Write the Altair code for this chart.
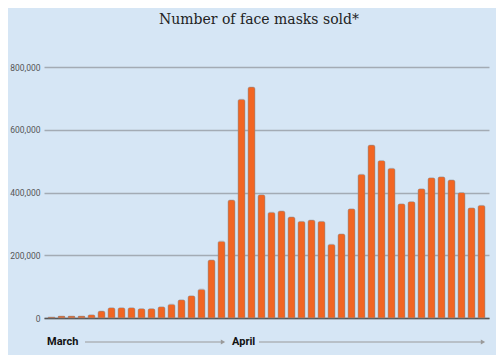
import altair as alt
import pandas as pd

days = list(range(1, 45))
masks = [3000, 6000, 6000, 6000, 10500, 22000, 33000, 33000, 33000, 30000,
         30000, 36000, 44000, 58000, 71000, 92000, 185000, 245000, 376000, 697000,
         736000, 393000, 337000, 341000, 322000, 308000, 312000, 308000, 235000, 268000,
         348000, 458000, 551000, 502000, 477000, 364000, 371000, 412000, 447000, 450000,
         440000, 400000, 351000, 359000]
y_ticks = [0, 200000, 400000, 600000, 800000]
title_text = "Number of face masks sold*"
month_labels = ["March", "April"]

df = pd.DataFrame({"day": days, "masks": masks})

BG = "#D6E6F5"
ORANGE = "#F26522"

bars = alt.Chart(df).mark_bar(
    color=ORANGE,
    cornerRadiusTopLeft=2,
    cornerRadiusTopRight=2,
    stroke="#8c8c8c",
    strokeWidth=0.6,
    strokeOpacity=0.7,
).encode(
    x=alt.X("day:O", scale=alt.Scale(paddingInner=0.3, paddingOuter=0.4),
            axis=alt.Axis(labels=False, ticks=False, title=None, domain=True,
                          domainColor="#555555", domainWidth=1.5, grid=False)),
    y=alt.Y("masks:Q", scale=alt.Scale(domain=[0, 800000], nice=False),
            axis=alt.Axis(values=y_ticks, format=",.0f", title=None, ticks=False,
                          domain=False, labelPadding=4, gridColor="#A3ABB4",
                          gridWidth=1.5, labelColor="#555555", labelFontSize=8.5,
                          labelFont="Roboto")),
)

lab_df = pd.DataFrame({"label": month_labels, "px": [3, 188]})
labels = alt.Chart(lab_df).mark_text(
    align="left", baseline="middle", fontWeight="bold", fontSize=11,
    font="Roboto", color="#111111"
).encode(x=alt.X("px:Q", scale=None), y=alt.value(275), text="label:N")

arr_df = pd.DataFrame({"x1": [41, 215], "x2": [179, 439]})
arrows = alt.Chart(arr_df).mark_rule(color="#9a9a9a", strokeWidth=1).encode(
    x=alt.X("x1:Q", scale=None), x2="x2:Q", y=alt.value(275))
heads = alt.Chart(arr_df).mark_point(
    shape="triangle-right", filled=True, color="#9a9a9a", size=25, opacity=1
).encode(x=alt.X("x2:Q", scale=None), y=alt.value(275))

t_df = pd.DataFrame({"t": [title_text]})
title = alt.Chart(t_df).mark_text(
    align="center", baseline="alphabetic", font="DejaVu Serif", fontSize=14,
    color="#222222"
).encode(x=alt.value(215), y=alt.value(-43), text="t:N")

chart = alt.layer(bars, labels, arrows, heads, title).properties(
    width=445, height=251,
    background=BG,
    autosize=alt.AutoSizeParams(type="none"),
    padding={"left": 36, "top": 59, "right": 7, "bottom": 37},
).configure_view(stroke=None)

chart.save("out.html", embed_options={"renderer": "svg", "actions": False})
